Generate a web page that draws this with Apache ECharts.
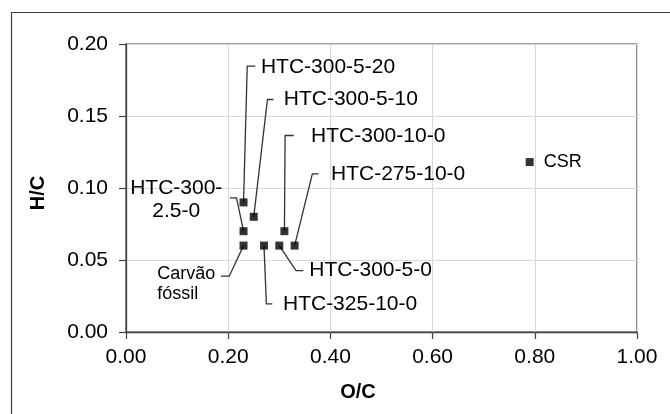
<!DOCTYPE html>
<html>
<head>
<meta charset="utf-8">
<script src="https://cdn.jsdelivr.net/npm/echarts@6/dist/echarts.min.js"></script>
<style>
  html, body { margin: 0; padding: 0; background: #fff; }
  #chart { width: 670px; height: 414px; }
</style>
</head>
<body>
<div id="chart"></div>
<script>
// ---- data ----
const sampleNames = ['HTC-300-5-20', 'HTC-300-5-10', 'HTC-300-2.5-0', 'HTC-300-10-0', 'Carvão fóssil', 'HTC-325-10-0', 'HTC-300-5-0', 'HTC-275-10-0', 'CSR'];
const labelTexts  = ['HTC-300-5-20', 'HTC-300-5-10', 'HTC-300-\n2.5-0', 'HTC-300-10-0', 'Carvão\nfóssil', 'HTC-325-10-0', 'HTC-300-5-0', 'HTC-275-10-0', 'CSR'];
const ocValues = [0.23, 0.25, 0.23, 0.31, 0.23, 0.27, 0.30, 0.33, 0.79];
const hcValues = [0.09, 0.08, 0.07, 0.07, 0.06, 0.06, 0.06, 0.06, 0.118];
const xTicks = [0, 0.2, 0.4, 0.6, 0.8, 1.0];
const yTicks = [0, 0.05, 0.10, 0.15, 0.20];
const xTitle = 'O/C';
const yTitle = 'H/C';

// ---- callout layout (pixel offsets from each marker) ----
const callouts = [
  { elbow: [3.7, -136.3], end: [11.7, -136.3], label: [17.4, -135.3], align: 'left',   size: 21, lh: 24 },
  { elbow: [13.7, -117.3], end: [19.7, -117.3], label: [30, -117.6],  align: 'left',   size: 21, lh: 24 },
  { elbow: [-7, -33.4],   end: [-13.6, -33.4],  label: [-67.3, -31.7], align: 'center', size: 21, lh: 23.4 },
  { elbow: [0.7, -95.7],  end: [9.3, -95.7],    label: [26.7, -95],   align: 'left',   size: 21, lh: 24 },
  { elbow: [-14.3, 30.6], end: [-22.6, 30.6],   label: [-86.3, 38.3], align: 'left',   size: 18, lh: 20 },
  { elbow: [2.4, 58.3],   end: [8.4, 58.3],     label: [19, 58.3],    align: 'left',   size: 21, lh: 24 },
  { elbow: [16.7, 25],    end: [24, 25],        label: [30, 25],      align: 'left',   size: 21, lh: 24 },
  { elbow: [17.7, -71.7], end: [24, -71.7],     label: [36.4, -71.7], align: 'left',   size: 21, lh: 24 },
  { elbow: null,          end: null,            label: [14, 0],       align: 'left',   size: 18, lh: 20 }
];

const FONT = '"Liberation Sans", Arial, sans-serif';
const points = ocValues.map((x, i) => [x, hcValues[i]]);

const chart = echarts.init(document.getElementById('chart'), null, { renderer: 'canvas' });

chart.setOption({
  backgroundColor: '#fff',
  animation: false,
  grid: {
    left: 126, top: 44, width: 511, height: 288,
    show: true, borderColor: '#404040', borderWidth: 1.2, backgroundColor: 'transparent'
  },
  xAxis: {
    type: 'value', min: xTicks[0], max: xTicks[xTicks.length - 1], interval: 0.2,
    axisLine: { show: true, onZero: false, lineStyle: { color: '#404040', width: 1.3 } },
    axisTick: { show: true, inside: false, length: 7, lineStyle: { color: '#404040', width: 1.2 } },
    axisLabel: { margin: 15, color: '#000', fontSize: 21, fontFamily: FONT, formatter: v => v.toFixed(2) },
    splitLine: { show: true, lineStyle: { color: '#d9d9d9', width: 1 } }
  },
  yAxis: {
    type: 'value', min: yTicks[0], max: yTicks[yTicks.length - 1], interval: 0.05,
    axisLine: { show: true, onZero: false, lineStyle: { color: '#404040', width: 1.3 } },
    axisTick: { show: true, inside: false, length: 7, lineStyle: { color: '#404040', width: 1.2 } },
    axisLabel: { margin: 18, color: '#000', fontSize: 21, fontFamily: FONT, formatter: v => v.toFixed(2) },
    splitLine: { show: true, lineStyle: { color: '#d9d9d9', width: 1 } }
  },
  graphic: [
    { type: 'rect', silent: true, shape: { x: 11.5, y: 12.5, width: 720, height: 520 },
      style: { fill: 'none', stroke: '#404040', lineWidth: 1.2 } },
    { type: 'text', silent: true, x: 358, y: 392,
      style: { text: xTitle, fill: '#000', font: 'bold 20px ' + FONT, align: 'center', verticalAlign: 'middle' } },
    { type: 'text', silent: true, x: 38, y: 193, rotation: Math.PI / 2,
      style: { text: yTitle, fill: '#000', font: 'bold 20px ' + FONT, align: 'center', verticalAlign: 'middle' } }
  ],
  series: [
    {
      type: 'custom',
      name: 'callouts',
      silent: true,
      clip: false,
      z: 1,
      data: points,
      renderItem: function (params, api) {
        const i = params.dataIndex;
        const p = api.coord([api.value(0), api.value(1)]);
        const c = callouts[i];
        const children = [];
        if (c.elbow) {
          children.push({
            type: 'polyline',
            shape: { points: [p, [p[0] + c.elbow[0], p[1] + c.elbow[1]], [p[0] + c.end[0], p[1] + c.end[1]]] },
            style: { stroke: '#333', lineWidth: 1.3, fill: 'none' }
          });
        }
        children.push({
          type: 'text',
          style: {
            text: labelTexts[i],
            x: p[0] + c.label[0], y: p[1] + c.label[1],
            align: c.align, verticalAlign: 'middle',
            fill: '#000', font: c.size + 'px ' + FONT, lineHeight: c.lh
          }
        });
        return { type: 'group', children: children };
      }
    },
    {
      type: 'scatter',
      name: 'samples',
      z: 3,
      symbol: 'rect',
      symbolSize: 8,
      itemStyle: { color: '#000' },
      data: points.map((p, i) => ({ name: sampleNames[i], value: p }))
    }
  ]
});
</script>
</body>
</html>
